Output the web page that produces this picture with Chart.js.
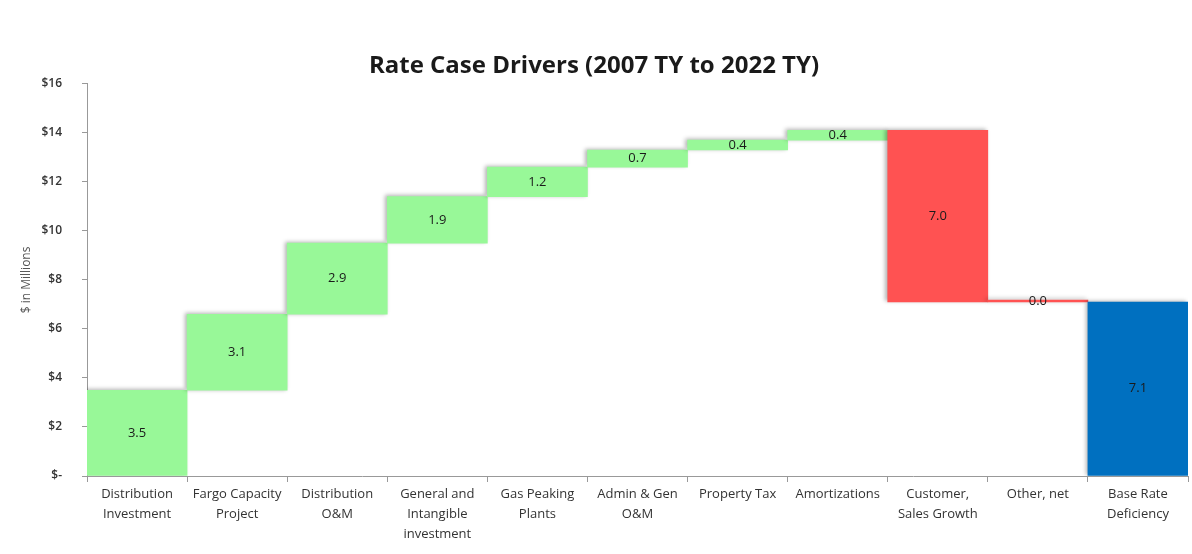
<!DOCTYPE html>
<html>
<head>
<meta charset="utf-8">
<script src="https://cdn.jsdelivr.net/npm/chart.js@4"></script>
<style>
  html, body { margin: 0; padding: 0; background: #fff; }
  #wrap { width: 1192px; height: 554px; }
</style>
</head>
<body>
<div id="wrap"><canvas id="chart"></canvas></div>
<script>
// Waterfall data ($ millions)
const categories = [
  ["Distribution", "Investment"],
  ["Fargo Capacity", "Project"],
  ["Distribution", "O&M"],
  ["General and", "Intangible", "investment"],
  ["Gas Peaking", "Plants"],
  ["Admin & Gen", "O&M"],
  "Property Tax",
  "Amortizations",
  ["Customer,", "Sales Growth"],
  "Other, net",
  ["Base Rate", "Deficiency"],
];
const driverChanges = [3.5, 3.1, 2.9, 1.9, 1.2, 0.7, 0.4, 0.4, -7.0, 0.0];
const deficiencyTotal = 7.1;
const yTicks = [0, 2, 4, 6, 8, 10, 12, 14, 16];

const GREEN = "#98f898";
const RED = "#ff5252";
const BLUE = "#0070c0";
const FONT = "'Open Sans', 'Liberation Sans', Arial, sans-serif";

// Build floating [start, end] ranges from the running total
let running = 0;
const ranges = driverChanges.map((v) => {
  const start = running;
  running += v;
  return [start, running];
});
ranges.push([0, deficiencyTotal]);
const labels = [...driverChanges, deficiencyTotal];
const colors = labels.map((v, i) =>
  i === labels.length - 1 ? BLUE : v < 0 || (v === 0 && i > 0) ? RED : GREEN
);

// Soft drop shadow on the bars
const barShadow = {
  id: "barShadow",
  beforeDatasetsDraw(chart) {
    const ctx = chart.ctx;
    ctx.save();
    ctx.shadowColor = "rgba(0,0,0,0.3)";
    ctx.shadowBlur = 4;
    ctx.shadowOffsetX = -2;
    ctx.shadowOffsetY = -1;
  },
  afterDatasetsDraw(chart) {
    chart.ctx.restore();
  },
};

// Value text in the middle of each bar
const valueLabels = {
  id: "valueLabels",
  afterDatasetsDraw(chart) {
    const ctx = chart.ctx;
    const meta = chart.getDatasetMeta(0);
    ctx.save();
    ctx.font = "13px " + FONT;
    ctx.fillStyle = "#1a1a1a";
    ctx.textAlign = "center";
    ctx.textBaseline = "middle";
    meta.data.forEach((bar, i) => {
      const { x, y, base } = bar.getProps(["x", "y", "base"], true);
      ctx.fillText(Math.abs(labels[i]).toFixed(1), x, (y + base) / 2);
    });
    ctx.restore();
  },
};

new Chart(document.getElementById("chart"), {
  type: "bar",
  data: {
    labels: categories,
    datasets: [
      {
        data: ranges,
        backgroundColor: colors,
        borderWidth: 0,
        minBarLength: 2,
        categoryPercentage: 1,
        barPercentage: 1,
      },
    ],
  },
  options: {
    responsive: true,
    maintainAspectRatio: false,
    animation: false,
    layout: { padding: { left: 0, right: 4, top: 0, bottom: 0 } },
    plugins: {
      legend: { display: false },
      tooltip: { enabled: false },
      title: {
        display: true,
        text: "Rate Case Drivers (2007 TY to 2022 TY)",
        color: "#1a1a1a",
        font: { family: FONT, size: 24, weight: "bold" },
        padding: { top: 52, bottom: 3 },
      },
    },
    scales: {
      x: {
        grid: {
          display: true,
          offset: true,
          drawOnChartArea: false,
          drawTicks: true,
          tickLength: 6,
          color: "#999",
        },
        border: { color: "#999" },
        ticks: {
          color: "#333",
          font: { family: FONT, size: 13, lineHeight: "20px" },
          maxRotation: 0,
          autoSkip: false,
          padding: 2,
        },
        afterFit: (axis) => { axis.height = 78; },
      },
      y: {
        min: 0,
        max: 16,
        afterBuildTicks: (axis) => { axis.ticks = yTicks.map((v) => ({ value: v })); },
        grid: { drawOnChartArea: false, tickLength: 5, color: "#999" },
        border: { color: "#999" },
        ticks: {
          color: "#333",
          font: { family: FONT, size: 12, weight: "600" },
          padding: 20,
          callback: (v) => (v === 0 ? "$-" : "$" + v),
        },
        title: {
          display: true,
          text: "$ in Millions",
          color: "#555",
          font: { family: FONT, size: 12 },
          padding: { top: 19, bottom: 0 },
        },
        afterFit: (axis) => { axis.width = 87; },
      },
    },
  },
  plugins: [barShadow, valueLabels],
});
</script>
</body>
</html>
